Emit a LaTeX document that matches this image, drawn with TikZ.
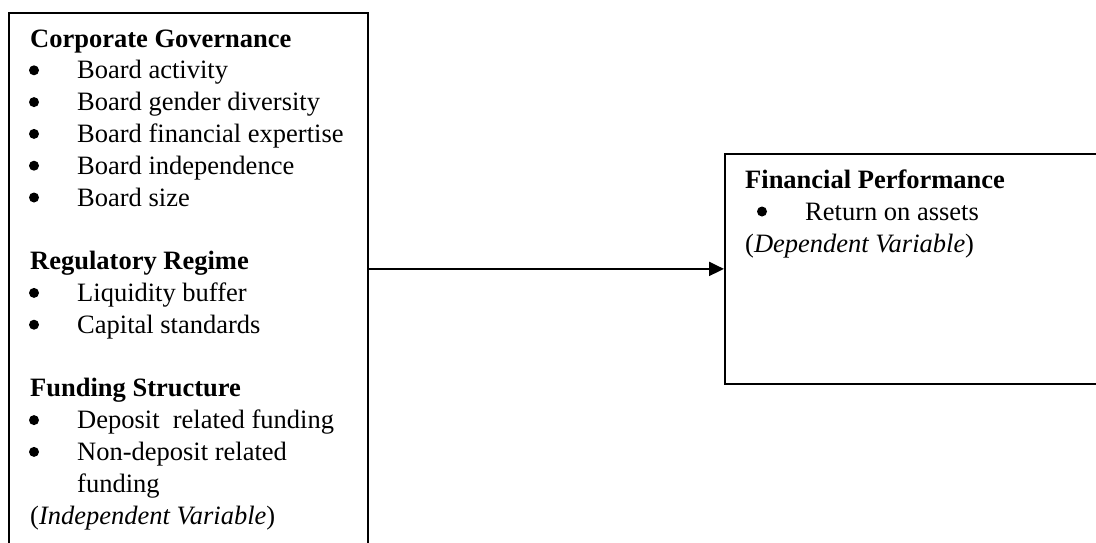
\documentclass[tikz,border=0pt]{standalone}
\usepackage{fontspec}
\setmainfont{Liberation Serif}
\usepackage{tikz}
\usetikzlibrary{arrows.meta}

\tikzset{
  box/.style={draw,line width=1.8pt,rectangle,anchor=north west,inner sep=0pt},
  txt/.style={anchor=base west,inner sep=0pt,font=\fontsize{26.5}{31.8}\selectfont},
  head/.style={txt,font=\fontsize{26.5}{31.8}\selectfont\bfseries},
  dot/.style={circle,fill,inner sep=0pt,minimum size=10pt,yshift=8.5pt},
}

\begin{document}
\begin{tikzpicture}[x=1pt,y=-1pt]
        \useasboundingbox (0,0) rectangle (1096,542);
        % the two boxes
        \node[box,minimum width=359pt,minimum height=556pt] (indep) at (8,12) {};
        \node[box,minimum width=390pt,minimum height=230pt] (perf) at (724,153) {};
        \draw[line width=2pt,-{Triangle[length=15pt,width=14pt]}] (indep.east |- perf.west) -- (perf.west);% link
        % left box
        \node[head] (cg) at (30,47) {Corporate Governance};
        \node[dot] (b1) at (34,78.8) {};   \node[txt] (cg1) at (77,78.8) {Board activity};
        \node[dot] (b2) at (34,110.6) {};  \node[txt] (cg2) at (77,110.6) {Board gender diversity};
        \node[dot] (b3) at (34,142.4) {};  \node[txt] (cg3) at (77,142.4) {Board financial expertise};
        \node[dot] (b4) at (34,174.2) {};  \node[txt] (cg4) at (77,174.2) {Board independence};
        \node[dot] (b5) at (34,206) {};    \node[txt] (cg5) at (77,206) {Board size};
        \node[head] (rr) at (30,269.6) {Regulatory Regime};
        \node[dot] (b6) at (34,301.4) {};  \node[txt] (rr1) at (77,301.4) {Liquidity buffer};
        \node[dot] (b7) at (34,333.2) {};  \node[txt] (rr2) at (77,333.2) {Capital standards};
        \node[head] (fs) at (30,396.8) {Funding Structure};
        \node[dot] (b8) at (34,428.6) {};  \node[txt] (fs1) at (77,428.6) {Deposit~ related funding};
        \node[dot] (b9) at (34,460.4) {};  \node[txt] (fs2) at (77,460.4) {Non-deposit related};
        \node[txt] (fs3) at (77,492.2) {funding};
        \node[txt] (iv) at (30,524) {(\textit{Independent Variable})};
        % right box
        \node[head] (fp) at (745,188) {Financial Performance};
        \node[dot] (b10) at (762,220) {};  \node[txt] (fp1) at (805,220) {Return on assets};
        \node[txt] (dv) at (745,252) {(\textit{Dependent Variable})};
    \end{tikzpicture}
\end{document}
